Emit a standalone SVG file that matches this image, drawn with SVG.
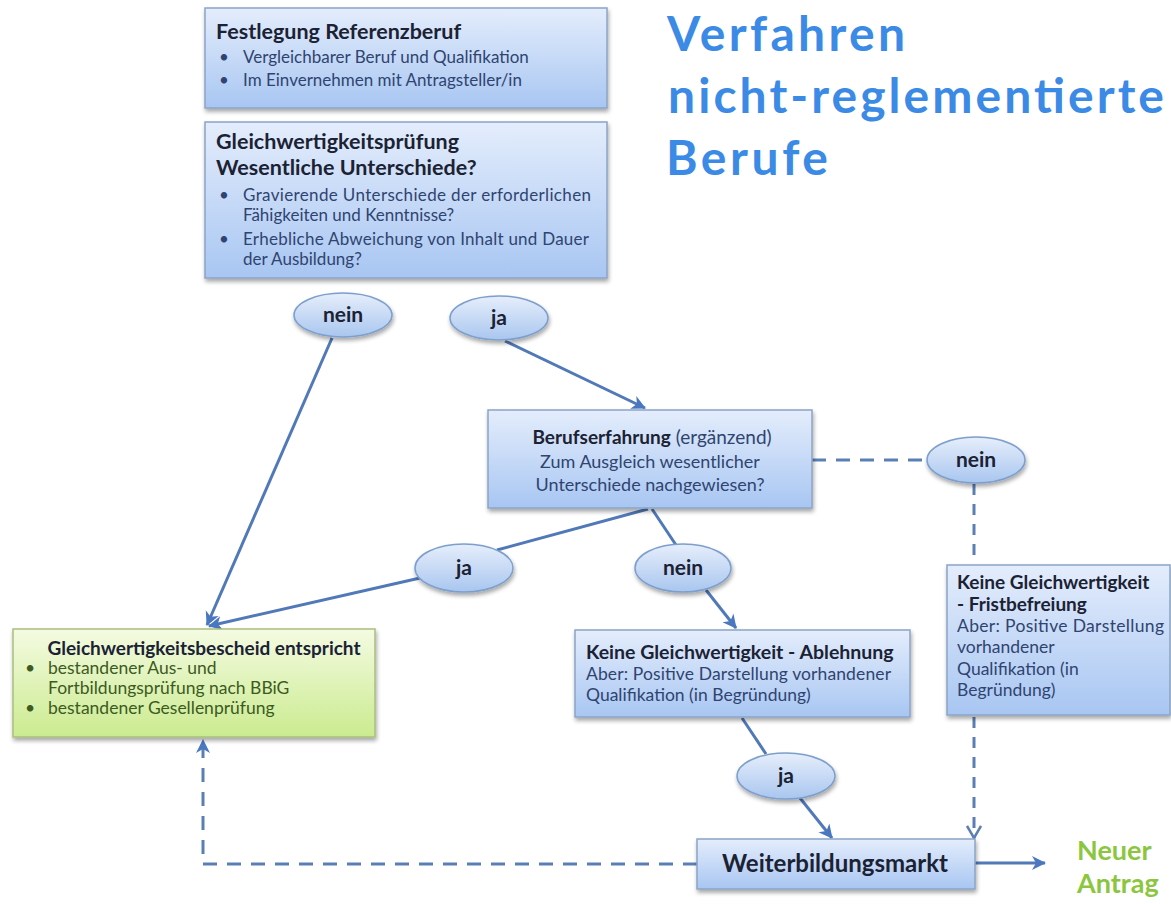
<svg xmlns="http://www.w3.org/2000/svg" width="1171" height="904" viewBox="0 0 1171 904">
<defs>
<linearGradient id="gBlue" x1="0" y1="0" x2="0" y2="1">
<stop offset="0" stop-color="#e4edfc"/>
<stop offset="1" stop-color="#a8c6f2"/>
</linearGradient>
<linearGradient id="gGreen" x1="0" y1="0" x2="0" y2="1">
<stop offset="0" stop-color="#f4fbe2"/>
<stop offset="1" stop-color="#cbeb8f"/>
</linearGradient>
<linearGradient id="gEll" x1="0" y1="0" x2="0" y2="1">
<stop offset="0" stop-color="#e6eefb"/>
<stop offset="1" stop-color="#a9c6ef"/>
</linearGradient>
<filter id="sh" x="-10%" y="-10%" width="130%" height="140%">
<feGaussianBlur in="SourceAlpha" stdDeviation="2"/>
<feOffset dx="1" dy="3" result="b"/>
<feComponentTransfer><feFuncA type="linear" slope="0.35"/></feComponentTransfer>
<feMerge><feMergeNode/><feMergeNode in="SourceGraphic"/></feMerge>
</filter>
<marker id="arr" markerWidth="16" markerHeight="16" refX="13" refY="8" orient="auto" markerUnits="userSpaceOnUse">
<path d="M0,1 L14,8 L0,15 L4,8 Z" fill="#4a78c0"/>
</marker>
<marker id="chev" markerWidth="16" markerHeight="16" refX="13" refY="8" orient="auto" markerUnits="userSpaceOnUse">
<path d="M1,1 L13,8 L1,15" fill="none" stroke="#5a7fb5" stroke-width="2.5"/>
</marker>
</defs>
<style>
.box{fill:url(#gBlue);stroke:#8ba4c6;stroke-width:1.5;filter:url(#sh)}
.gbox{fill:url(#gGreen);stroke:#a9be7e;stroke-width:1.5;filter:url(#sh)}
.ell{fill:url(#gEll);stroke:#7d9fcc;stroke-width:1.5;filter:url(#sh)}
.t{font-family:Lato,"Open Sans",sans-serif;font-weight:bold;fill:#1b2233}
.b{font-family:Lato,"Open Sans",sans-serif;fill:#2f4470}
.bg{font-family:Lato,"Open Sans",sans-serif;fill:#3c5a22}
.lab{font-family:Lato,"Open Sans",sans-serif;font-weight:bold;font-size:21px;fill:#1b2233;text-anchor:middle}
.ln{fill:none;stroke:#5179b8;stroke-width:3}
.dl{fill:none;stroke:#5a7fb5;stroke-width:3;stroke-dasharray:14 10}
.title{font-family:Lato,"Open Sans",sans-serif;font-weight:bold;font-size:48px;fill:#3b8ae6}
.green{font-family:Lato,"Open Sans",sans-serif;font-weight:bold;font-size:27px;fill:#8cc63f}
</style>

<g id="title">
<text class="title" x="667" y="51" textLength="238">Verfahren</text>
<text class="title" x="668" y="113" textLength="496">nicht-reglementierte</text>
<text class="title" x="666" y="175" textLength="162">Berufe</text>
</g>

<g id="connectors">
<line class="ln" x1="332" y1="338" x2="207" y2="625" marker-end="url(#arr)"/>
<line class="ln" x1="505" y1="341" x2="645" y2="408" marker-end="url(#arr)"/>
<line class="ln" x1="648" y1="509" x2="497" y2="550"/>
<line class="ln" x1="420" y1="578" x2="209" y2="626" marker-end="url(#arr)"/>
<line class="ln" x1="652" y1="509" x2="676" y2="545"/>
<line class="ln" x1="706" y1="590" x2="736" y2="628" marker-end="url(#arr)"/>
<line class="ln" x1="742" y1="718" x2="766" y2="754"/>
<line class="ln" x1="800" y1="798" x2="832" y2="838" marker-end="url(#arr)"/>
<line class="dl" x1="812" y1="460" x2="927" y2="460"/>
<line class="dl" x1="974" y1="484" x2="974" y2="564" style="stroke-dasharray:11 9"/>
<line class="dl" x1="974" y1="717" x2="974" y2="838" style="stroke-dasharray:11 9" marker-end="url(#chev)"/>
<line class="ln" x1="975" y1="863" x2="1045" y2="863" marker-end="url(#arr)"/>
<polyline class="dl" points="697,864 203,864 203,740" marker-end="url(#arr)"/>
</g>

<g id="festlegung">
<rect class="box" x="205" y="8" width="402" height="100"/>
<text class="t" x="216" y="39" font-size="21.5">Festlegung Referenzberuf</text>
<text class="b" font-size="17"><tspan x="219" y="63">•</tspan><tspan x="243" y="63">Vergleichbarer Beruf und Qualifikation</tspan><tspan x="219" y="86">•</tspan><tspan x="243" y="86">Im Einvernehmen mit Antragsteller/in</tspan></text>
</g>

<g id="pruefung">
<rect class="box" x="205" y="122" width="402" height="156"/>
<text class="t" font-size="21.5"><tspan x="216" y="149">Gleichwertigkeitsprüfung</tspan><tspan x="216" y="175">Wesentliche Unterschiede?</tspan></text>
<text class="b" font-size="17"><tspan x="219" y="201">•</tspan><tspan x="243" y="201" textLength="348">Gravierende Unterschiede der erforderlichen</tspan><tspan x="243" y="221">Fähigkeiten und Kenntnisse?</tspan><tspan x="219" y="245">•</tspan><tspan x="243" y="245" textLength="346">Erhebliche Abweichung von Inhalt und Dauer</tspan><tspan x="243" y="265">der Ausbildung?</tspan></text>
</g>

<g id="e-nein1"><ellipse class="ell" cx="343" cy="315" rx="49" ry="22"/><text class="lab" x="343" y="322">nein</text></g>
<g id="e-ja1"><ellipse class="ell" cx="499" cy="318" rx="49" ry="22"/><text class="lab" x="499" y="325">ja</text></g>

<g id="berufserfahrung">
<rect class="box" x="488" y="410" width="324" height="98"/>
<text x="652" y="444" text-anchor="middle" font-size="19"><tspan class="t">Berufserfahrung</tspan><tspan class="b"> (ergänzend)</tspan></text>
<text class="b" x="650" y="468" text-anchor="middle" font-size="18">Zum Ausgleich wesentlicher</text>
<text class="b" x="650" y="491" text-anchor="middle" font-size="18">Unterschiede nachgewiesen?</text>
</g>

<g id="e-nein2"><ellipse class="ell" cx="976" cy="460" rx="49" ry="23"/><text class="lab" x="976" y="467">nein</text></g>
<g id="e-ja2"><ellipse class="ell" cx="464" cy="568" rx="49" ry="24"/><text class="lab" x="464" y="575">ja</text></g>
<g id="e-nein3"><ellipse class="ell" cx="683" cy="568" rx="48" ry="24"/><text class="lab" x="683" y="575">nein</text></g>

<g id="bescheid">
<rect class="gbox" x="13" y="629" width="362" height="108"/>
<text class="t" x="204" y="655" text-anchor="middle" font-size="19">Gleichwertigkeitsbescheid entspricht</text>
<text class="bg" font-size="17.5"><tspan x="25" y="674">•</tspan><tspan x="48" y="674">bestandener Aus- und</tspan><tspan x="48" y="694">Fortbildungsprüfung nach BBiG</tspan><tspan x="25" y="714">•</tspan><tspan x="48" y="714">bestandener Gesellenprüfung</tspan></text>
</g>

<g id="ablehnung">
<rect class="box" x="575" y="630" width="335" height="87"/>
<text class="t" x="586" y="659" font-size="19.5">Keine Gleichwertigkeit - Ablehnung</text>
<text class="b" font-size="17.5"><tspan x="586" y="680" textLength="305">Aber: Positive Darstellung vorhandener</tspan><tspan x="586" y="701">Qualifikation (in Begründung)</tspan></text>
</g>

<g id="fristbefreiung">
<rect class="box" x="947" y="565" width="223" height="150"/>
<text class="t" font-size="19"><tspan x="957" y="589">Keine Gleichwertigkeit</tspan><tspan x="957" y="611">- Fristbefreiung</tspan></text>
<text class="b" font-size="17.5"><tspan x="957" y="632" textLength="207">Aber: Positive Darstellung</tspan><tspan x="957" y="653">vorhandener</tspan><tspan x="957" y="675">Qualifikation (in</tspan><tspan x="957" y="696">Begründung)</tspan></text>
</g>

<g id="e-ja3"><ellipse class="ell" cx="786" cy="776" rx="49" ry="23"/><text class="lab" x="786" y="783">ja</text></g>

<g id="weiterbildung">
<rect class="box" x="697" y="839" width="278" height="50"/>
<text class="t" x="835" y="872" text-anchor="middle" font-size="24">Weiterbildungsmarkt</text>
</g>

<g id="neuer-antrag">
<text class="green" x="1077" y="860">Neuer</text>
<text class="green" x="1077" y="893">Antrag</text>
</g>
</svg>
